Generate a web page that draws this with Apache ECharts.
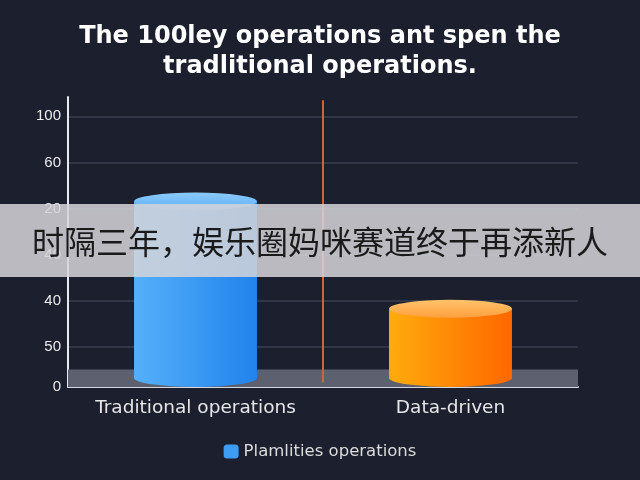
<!DOCTYPE html>
<html>
<head>
<meta charset="utf-8">
<script src="https://cdn.jsdelivr.net/npm/echarts@6/dist/echarts.min.js"></script>
<style>
html,body{margin:0;padding:0;background:#1c1f2e;}
#c{width:640px;height:480px;}
</style>
</head>
<body>
<div id="c"></div>
<script>
// ---- data ----
const categories = ['Traditional operations', 'Data-driven'];
const values = [4.15, 1.82];            // bar heights in axis units
const tickLabels = ['0', '50', '40', '40', '20', '60', '100'];
const seriesName = 'Plamlities operations';
const titleText = 'The 100ley operations ant spen the\ntradlitional operations.';
const overlayText = '时隔三年，娱乐圈妈咪赛道终于再添新人';
const bandRange = [0.12, 0.5];
const dividerRange = [0.22, 6.35];

// ---- styles ----
const yMin = 0.12, yMax = 6.42;
const bodyColors = [['#55b0fa', '#2183ec'], ['#ffab0c', '#ff6800']];
const topColors = [['#8ccafb', '#5eb0f6'], ['#ffc36a', '#ffa040']];
const wideFont = 'DejaVu Sans, Verdana, sans-serif';

const chart = echarts.init(document.getElementById('c'));

function renderCylinder(params, api) {
  const i = params.dataIndex;
  const top = api.coord([api.value(0), api.value(1)]);
  const base = api.coord([api.value(0), yMin]);
  const w = api.size([1, 0])[0] * 0.482;
  const rx = w / 2, ry = 9;
  const l = top[0] - rx, r = top[0] + rx;
  const t = top[1], b = base[1] - ry;
  const body = `M ${l} ${t} L ${l} ${b} A ${rx} ${ry} 0 0 0 ${r} ${b} L ${r} ${t} Z`;
  const cap = `M ${l} ${t} A ${rx} ${ry} 0 1 0 ${r} ${t} A ${rx} ${ry} 0 1 0 ${l} ${t} Z`;
  return {
    type: 'group',
    children: [
      { type: 'path', shape: { pathData: body },
        style: { fill: new echarts.graphic.LinearGradient(0, 0, 1, 0, [
          { offset: 0, color: bodyColors[i][0] }, { offset: 1, color: bodyColors[i][1] }]) } },
      { type: 'path', shape: { pathData: cap },
        style: { fill: new echarts.graphic.LinearGradient(0, 0, 0, 1, [
          { offset: 0, color: topColors[i][0] }, { offset: 1, color: topColors[i][1] }]) } }
    ]
  };
}

const gridC = 'rgba(72,78,100,0.5)';
chart.setOption({
  backgroundColor: '#1c1f2e',
  animation: false,
  title: {
    text: titleText, left: 'center', top: 17,
    textStyle: { color: '#ffffff', fontSize: 24, fontWeight: 'bold',
      fontFamily: wideFont, lineHeight: 30 }
  },
  legend: {
    data: [seriesName], bottom: 15, left: 'center',
    icon: 'roundRect', itemWidth: 15, itemHeight: 14, itemGap: 8,
    textStyle: { color: '#dcdcdc', fontSize: 16.5, fontFamily: wideFont }
  },
  grid: { left: 68, right: 62, top: 97, bottom: 93 },
  xAxis: [{
    type: 'category', data: categories,
    axisLine: { lineStyle: { color: '#d6d8e0', width: 2 } },
    axisTick: { show: false },
    axisLabel: { color: '#e6e6e6', fontSize: 18.5, margin: 12, fontFamily: wideFont,
      interval: 0, hideOverlap: false },
    splitLine: { show: false }
  }, {
    type: 'value', min: 0, max: 2, show: false
  }],
  yAxis: {
    type: 'value', min: yMin, max: yMax, minInterval: 1, maxInterval: 1, splitNumber: 6,
    axisLine: { show: true, lineStyle: { color: '#e8e8ee', width: 2 } },
    axisTick: { show: false },
    axisLabel: {
      color: '#ececec', fontSize: 15, margin: 7, showMaxLabel: false,
      fontFamily: 'Liberation Sans, Arial, sans-serif',
      formatter: function (v) {
        if (Math.abs(v - yMin) < 1e-6) return tickLabels[0];
        const k = Math.round(v);
        if (Math.abs(v - k) > 1e-6) return '';
        return tickLabels[k] !== undefined ? tickLabels[k] : '';
      }
    },
    splitLine: { lineStyle: { color: ['rgba(0,0,0,0)', gridC, gridC, gridC, gridC, gridC, gridC, 'rgba(0,0,0,0)'], width: 2 } }
  },
  series: [{
    type: 'line', data: [], xAxisIndex: 1, silent: true,
    markArea: { silent: true, itemStyle: { color: '#5d606e' },
      data: [[{ yAxis: bandRange[0] }, { yAxis: bandRange[1] }]] },
    markLine: { silent: true, symbol: 'none', label: { show: false },
      lineStyle: { color: '#d4603c', width: 2, type: 'solid' },
      data: [[{ coord: [1, dividerRange[0]] }, { coord: [1, dividerRange[1]] }]] }
  }, {
    type: 'custom', name: seriesName, z: 5,
    itemStyle: { color: '#3d9df2' },
    renderItem: renderCylinder,
    data: values.map((v, i) => [i, v])
  }],
  graphic: [{
    type: 'group', left: 0, top: 204, z: 100, zlevel: 1,
    children: [
      { type: 'rect', z: 100, zlevel: 1, shape: { x: 0, y: 0, width: 640, height: 73 },
        style: { fill: 'rgba(212,212,216,0.86)' } },
      { type: 'text', z: 101, zlevel: 1, x: 320, y: 38,
        style: { text: overlayText, fill: '#1a1a1a', fontSize: 32,
          fontFamily: 'Noto Sans CJK SC', align: 'center', verticalAlign: 'middle' } }
    ]
  }]
});
</script>
</body>
</html>
